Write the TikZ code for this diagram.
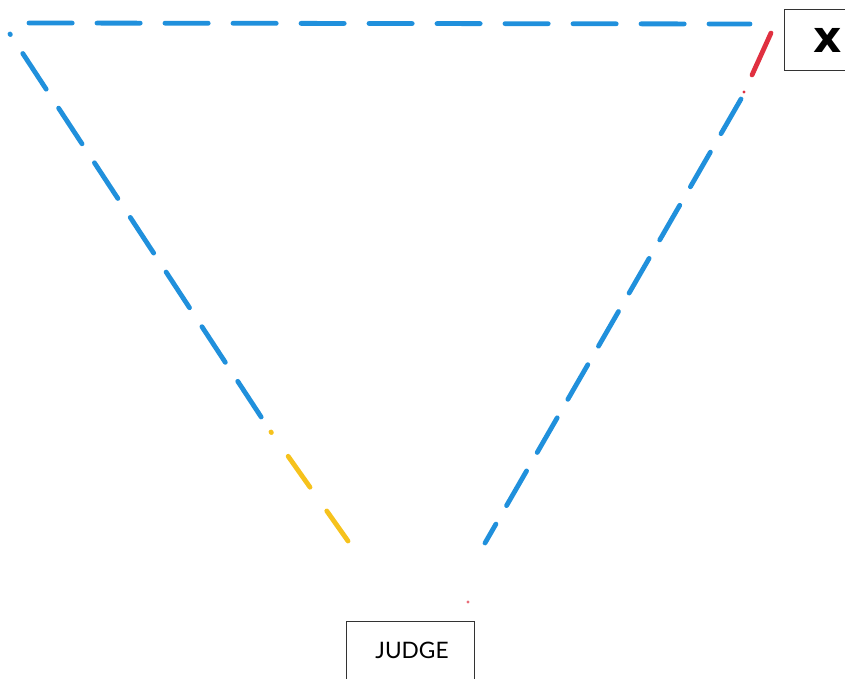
\documentclass[tikz,border=0pt]{standalone}
\usepackage{fontspec}
\setmainfont{Lato}
\newfontfamily\markfont{DejaVu Sans}
\usetikzlibrary{positioning,calc}
\definecolor{SideBlue}{HTML}{2090DC}
\definecolor{SideYellow}{HTML}{F6C21C}
\definecolor{SideRed}{HTML}{E03040}

\tikzset{
  side/.style={line width=3.6pt,line cap=round,dash pattern=on 32pt off 17pt},
  tag/.style={draw,line width=.8pt,inner sep=0pt,draw=black!80}
}

\begin{document}
\begin{tikzpicture}[x=.75pt,y=-.75pt]
  \useasboundingbox (0,0) rectangle (845,678);
  % corners of the triangle
  \coordinate (tl) at (10,34);
  \coordinate (tr) at (750,24);
  \coordinate (bl) at (348,541);
  \coordinate (br) at (485,543);
  \coordinate (turnL) at (271,432);
  \coordinate (topR) at (771,33);
  \coordinate (redE) at (752,75);
  \coordinate (blueR) at (741,99);
  % boxes
  \node[tag,minimum width=64pt,minimum height=46pt,anchor=north west] (xbox) at (784,9)
    {\markfont\bfseries\fontsize{33}{33}\selectfont x};
  \node[tag,minimum width=96pt,minimum height=50pt,anchor=north west] (judge) at (346,621) {};
  \node at (412,650) (jtext) {\fontsize{17}{17}\selectfont JUDGE};
  % sides
  \draw[side,SideBlue,dash pattern=on 32.4pt off 18.6pt] (29,23) -- (tr);
  \draw[side,SideBlue,dash phase=31.5pt] (tl) -- (turnL);
  \draw[side,SideYellow,dash pattern=on 28.4pt off 21.8pt,dash phase=27.9pt] (turnL) -- (bl);
  \draw[side,SideRed,dash pattern=on 40pt off 10pt] (topR) -- (redE);
  \fill[SideRed] (744,92) circle (1.2pt);
  \draw[side,SideBlue,dash pattern=on 30pt off 16pt] (blueR) -- (br);
  \fill[SideRed!70] (468,602) circle (1.2pt);
\end{tikzpicture}
\end{document}
